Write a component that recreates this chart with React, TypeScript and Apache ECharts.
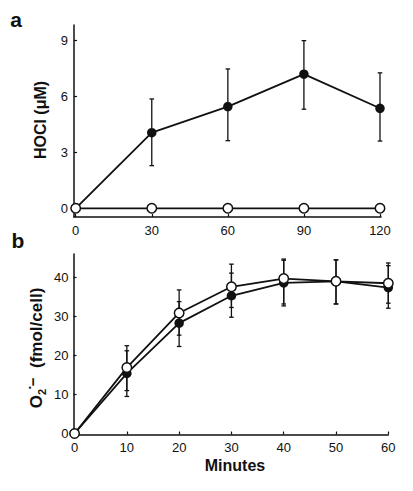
import React, { useEffect, useRef } from "react";
import * as echarts from "echarts";

// Panel a: HOCl production
const hoclMinutes = [0, 30, 60, 90, 120];
const hoclFilled = [0, 4.06, 5.46, 7.2, 5.37];
const hoclFilledHi = [0, 5.87, 7.48, 9.0, 7.27];
const hoclFilledLo = [0, 2.29, 3.63, 5.32, 3.61];
const hoclOpen = [0, 0, 0, 0, 0];
const hoclTicksY = [0, 3, 6, 9];
const hoclTicksX = [0, 30, 60, 90, 120];

// Panel b: superoxide production
const o2Minutes = [0, 10, 20, 30, 40, 50, 60];
const o2Open = [0, 16.9, 30.9, 37.6, 39.7, 39.0, 38.5];
const o2OpenHi = [0, 22.5, 36.8, 43.4, 44.7, 44.5, 43.7];
const o2OpenLo = [0, 11.0, 25.2, 32.3, 33.2, 33.2, 33.4];
const o2Filled = [0, 15.4, 28.3, 35.3, 38.6, 39.0, 37.4];
const o2FilledHi = [0, 21.2, 33.8, 41.1, 44.4, 44.5, 43.0];
const o2FilledLo = [0, 9.5, 22.3, 29.8, 32.7, 33.2, 32.1];
const o2TicksY = [0, 10, 20, 30, 40];
const o2TicksX = [0, 10, 20, 30, 40, 50, 60];

const FONT = "'Liberation Sans', Arial, Helvetica, sans-serif";
const INK = "#111";

function errData(xs: number[], lo: number[], hi: number[]) {
  return xs
    .map((x, i) => [x, lo[i], hi[i]])
    .filter((d) => d[2] > d[1]);
}

function errSeries(xi: number, data: number[][]) {
  return {
    type: "custom",
    xAxisIndex: xi,
    yAxisIndex: xi,
    z: 1,
    encode: { x: 0, y: [1, 2] },
    data,
    renderItem: (params: any, api: any) => {
      const x = api.value(0);
      const top = api.coord([x, api.value(2)]);
      const bot = api.coord([x, api.value(1)]);
      const w = 2.3;
      const st = { stroke: INK, lineWidth: 1.3 };
      return {
        type: "group",
        children: [
          { type: "line", shape: { x1: top[0], y1: top[1], x2: bot[0], y2: bot[1] }, style: st },
          { type: "line", shape: { x1: top[0] - w, y1: top[1], x2: top[0] + w, y2: top[1] }, style: st },
          { type: "line", shape: { x1: bot[0] - w, y1: bot[1], x2: bot[0] + w, y2: bot[1] }, style: st },
        ],
      };
    },
  };
}

function lineSeries(xi: number, xs: number[], ys: number[], filled: boolean) {
  return {
    type: "line",
    xAxisIndex: xi,
    yAxisIndex: xi,
    z: filled ? 2 : 3,
    data: xs.map((x, i) => [x, ys[i]]),
    symbol: "circle",
    symbolSize: 9.5,
    showSymbol: true,
    itemStyle: filled
      ? { color: INK }
      : { color: "#fff", borderColor: INK, borderWidth: 1.5 },
    lineStyle: { color: INK, width: 1.8 },
    emphasis: { disabled: true },
  };
}

function axisCommon(ticks: number[]) {
  return {
    type: "value",
    splitLine: { show: false },
    axisLine: { show: true, onZero: false, lineStyle: { color: INK, width: 1.5 } },
    axisTick: { show: true, inside: true, length: 3, customValues: ticks, lineStyle: { color: INK, width: 1.2 } },
    axisLabel: { customValues: ticks, color: INK, fontSize: 13, fontFamily: FONT },
  };
}

export default function App() {
  const ref = useRef<HTMLDivElement>(null);
  useEffect(() => {
    if (!ref.current) return;
    const chart = echarts.init(ref.current, undefined, { renderer: "svg" });
    const option: any = {
      animation: false,
      backgroundColor: "#fff",
      grid: [
        { left: 74, right: 32, top: 25, height: 192 },
        { left: 73.5, right: 24.7, top: 254, height: 180.5 },
      ],
      xAxis: [
        { ...axisCommon(hoclTicksX), gridIndex: 0, min: -0.67, max: 120.4, axisLabel: { ...axisCommon(hoclTicksX).axisLabel, margin: 7 } },
        { ...axisCommon(o2TicksX), gridIndex: 1, min: -0.2, max: 60, axisLabel: { ...axisCommon(o2TicksX).axisLabel, margin: 6 } },
      ],
      yAxis: [
        { ...axisCommon(hoclTicksY), gridIndex: 0, min: -0.467, max: 9.84, axisLabel: { ...axisCommon(hoclTicksY).axisLabel, margin: 6 } },
        { ...axisCommon(o2TicksY), gridIndex: 1, min: -0.25, max: 46, axisLabel: { ...axisCommon(o2TicksY).axisLabel, margin: 5 } },
      ],
      series: [
        errSeries(0, errData(hoclMinutes, hoclFilledLo, hoclFilledHi)),
        lineSeries(0, hoclMinutes, hoclFilled, true),
        lineSeries(0, hoclMinutes, hoclOpen, false),
        errSeries(1, errData(o2Minutes, o2FilledLo, o2FilledHi)),
        errSeries(1, errData(o2Minutes, o2OpenLo, o2OpenHi)),
        lineSeries(1, o2Minutes, o2Filled, true),
        lineSeries(1, o2Minutes, o2Open, false),
      ],
      graphic: [
        { type: "text", x: 16, y: 19, style: { text: "a", font: `bold 21px ${FONT}`, fill: INK, align: "center", verticalAlign: "middle" } },
        { type: "text", x: 18, y: 240, style: { text: "b", font: `bold 21px ${FONT}`, fill: INK, align: "center", verticalAlign: "middle" } },
        { type: "text", x: 40, y: 120, rotation: Math.PI / 2, style: { text: "HOCl (μM)", font: `bold 16px ${FONT}`, fill: INK, align: "center", verticalAlign: "middle" } },
        {
          type: "text",
          x: 36,
          y: 348,
          rotation: Math.PI / 2,
          style: {
            text: "{o|O}{sub|2}{dot|•}{dash|−}{n|  (fmol/cell)}",
            align: "center",
            verticalAlign: "middle",
            rich: {
              o: { fontFamily: FONT, fontWeight: "bold", fontSize: 17, lineHeight: 22, fill: INK, verticalAlign: "middle" },
              sub: { fontFamily: FONT, fontWeight: "bold", fontSize: 11, lineHeight: 11, fill: INK, verticalAlign: "bottom" },
              dot: { fontFamily: FONT, fontWeight: "bold", fontSize: 8, lineHeight: 8, fill: INK, verticalAlign: "top" },
              dash: { fontFamily: FONT, fontWeight: "bold", fontSize: 15, lineHeight: 12, fill: INK, verticalAlign: "top" },
              n: { fontFamily: FONT, fontWeight: "bold", fontSize: 17, lineHeight: 22, fill: INK, verticalAlign: "middle" },
            },
          },
        },
        { type: "text", x: 235, y: 465, style: { text: "Minutes", font: `bold 16px ${FONT}`, fill: INK, align: "center", verticalAlign: "middle" } },
      ],
    };
    chart.setOption(option);
    return () => chart.dispose();
  }, []);
  return (
    <div
      ref={ref}
      style={{ position: "fixed", left: 0, top: 0, width: 413, height: 491, background: "#fff" }}
    />
  );
}
